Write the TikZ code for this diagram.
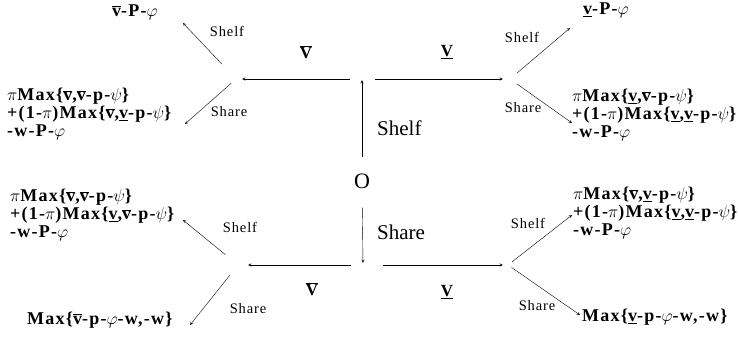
\documentclass[tikz,border=0pt]{standalone}
\usepackage{fontspec}
\setmainfont{Liberation Serif}
\newfontfamily\payfont[LetterSpace=7]{Liberation Serif}
\newfontfamily\actfont[LetterSpace=6]{Liberation Serif}
\newcommand{\vhi}{$\overline{\mbox{v}}$}
\newcommand{\vlo}{\underline{v}}
\newcommand{\Vhi}{$\overline{\mbox{V}}$}
\newcommand{\Vlo}{\underline{V}}
\begin{document}
\begin{tikzpicture}[>=stealth, x=1pt, y=-1pt]
  \tikzset{pay/.style={font=\payfont\fontsize{18}{18}\selectfont\bfseries, align=left, anchor=west, inner sep=0pt},
    act/.style={font=\actfont\fontsize{14.5}{15}\selectfont, inner sep=0pt},
    move/.style={font=\fontsize{21}{22}\selectfont, anchor=west, inner sep=0pt},
    type/.style={font=\fontsize{17}{18}\selectfont\bfseries, inner sep=0pt},
    hub/.style={inner sep=0pt, minimum size=0pt}}
  \useasboundingbox (0,0) rectangle (738,341);
  \node[font=\fontsize{22}{23}\selectfont, inner sep=0pt] (O) at (362,181) {O};
  \node[hub] (up) at (362,79) {};
  \node[hub] (down) at (363,265) {};
  \node[hub] (tl) at (236,79) {};
  \node[hub] (tr) at (510,79) {};
  \node[hub] (bl) at (238,265) {};
  \node[hub] (br) at (508,265) {};
  \coordinate (tl1) at (183,23);
  \coordinate (tl2) at (185,124);
  \coordinate (tr1) at (570,28);
  \coordinate (tr2) at (572,123);
  \coordinate (bl1) at (183,220);
  \coordinate (bl2) at (190,325);
  \coordinate (br1) at (572,215);
  \coordinate (br2) at (580,315);
  \draw[->, shorten <=16pt, shorten >=1pt] (O) -- (up);
  \draw[->, shorten <=19pt, shorten >=2pt] (O) -- (down);
  \draw[->, shorten <=12pt, shorten >=6pt] (up) -- (tl);
  \draw[->, shorten <=13pt, shorten >=7pt] (up) -- (tr);
  \draw[->, shorten <=12pt, shorten >=10pt] (down) -- (bl);
  \draw[->, shorten <=20pt, shorten >=5pt] (down) -- (br);
  \draw[->, shorten <=20pt] (tl) -- (tl1);
  \draw[->, shorten <=6pt] (tl) -- (tl2);
  \draw[->, shorten <=9pt] (tr) -- (tr1);
  \draw[->, shorten <=8pt] (tr) -- (tr2);
  \draw[->, shorten <=16pt] (bl) -- (bl1);
  \draw[->, shorten <=13pt] (bl) -- (bl2);
  \draw[->, shorten <=5pt] (br) -- (br1);
  \draw[->, shorten <=4pt] (br) -- (br2);
  \node[move] (shelf) at (377,128) {Shelf};
  \node[move] (share) at (377,232) {Share};
  \node[type] (tlV) at (306,52) {\Vhi};
  \node[type] (trV) at (447,52) {\Vlo};
  \node[type] (blV) at (312,289) {\Vhi};
  \node[type] (brV) at (447,292) {\Vlo};
  \node[act] (tlS) at (227,31) {Shelf};
  \node[act] (tlH) at (229,112) {Share};
  \node[act] (trS) at (522,37) {Shelf};
  \node[act] (trH) at (523,108) {Share};
  \node[act] (blS) at (240,227) {Shelf};
  \node[act] (blH) at (248,309) {Share};
  \node[act] (brS) at (528,223) {Shelf};
  \node[act] (brH) at (537,306) {Share};
  \node[pay] (tlTop) at (112,12) {\vhi-P-$\varphi$};
  \node[pay] (tlPay) at (7,114) {$\pi$Max\{\vhi,\vhi-p-$\psi$\}\\+(1-$\pi$)Max\{\vhi,\vlo-p-$\psi$\}\\-w-P-$\varphi$};
  \node[pay] (trTop) at (583,10) {\vlo-P-$\varphi$};
  \node[pay] (trPay) at (572,115) {$\pi$Max\{\vlo,\vhi-p-$\psi$\}\\+(1-$\pi$)Max\{\vlo,\vlo-p-$\psi$\}\\-w-P-$\varphi$};
  \node[pay] (blPay) at (10,215) {$\pi$Max\{\vhi,\vhi-p-$\psi$\}\\+(1-$\pi$)Max\{\vlo,\vhi-p-$\psi$\}\\-w-P-$\varphi$};
  \node[pay] (blMax) at (27,320) {Max\{\vhi-p-$\varphi$-w,-w\}};
  \node[pay] (brPay) at (573,213) {$\pi$Max\{\vhi,\vlo-p-$\psi$\}\\+(1-$\pi$)Max\{\vlo,\vlo-p-$\psi$\}\\-w-P-$\varphi$};
  \node[pay] (brMax) at (582,317) {Max\{\vlo-p-$\varphi$-w,-w\}};
\end{tikzpicture}
\end{document}
